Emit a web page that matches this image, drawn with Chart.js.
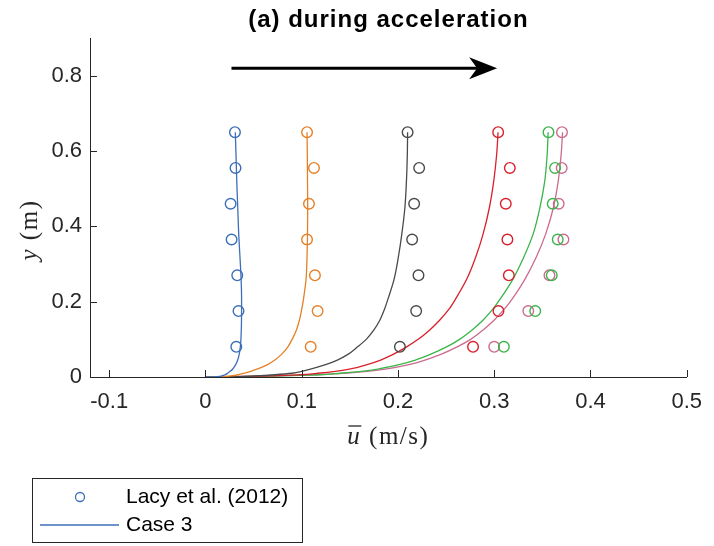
<!DOCTYPE html>
<html>
<head>
<meta charset="utf-8">
<script src="https://cdn.jsdelivr.net/npm/chart.js@4.4.1/dist/chart.umd.min.js"></script>
<style>
  html, body { margin: 0; padding: 0; background: #fff; }
</style>
</head>
<body>
<canvas id="chart" width="714" height="546"></canvas>
<script>
// measured points (Lacy et al. 2012), same heights for every profile
var obsY = [0.65, 0.555, 0.46, 0.365, 0.27, 0.175, 0.08];
var obsBlue   = [0.0306, 0.0312, 0.0261, 0.0271, 0.0330, 0.0343, 0.0320];
var obsOrange = [0.1055, 0.1127, 0.1075, 0.1055, 0.1137, 0.1165, 0.1093];
var obsGray   = [0.2100, 0.2220, 0.2168, 0.2147, 0.2213, 0.2189, 0.2020];
var obsRed    = [0.3041, 0.3162, 0.3120, 0.3137, 0.3152, 0.3044, 0.2780];
var obsGreen  = [0.3564, 0.3632, 0.3608, 0.3660, 0.3598, 0.3426, 0.3100];
var obsPink   = [0.3704, 0.3701, 0.3670, 0.3719, 0.3574, 0.3354, 0.3000];

// model profiles (Case 3) at these heights
var curveY = [0, 0.001, 0.003, 0.006, 0.01, 0.015, 0.022, 0.032, 0.045, 0.06, 0.08, 0.1,
              0.125, 0.15, 0.18, 0.21, 0.26, 0.32, 0.38, 0.45, 0.52, 0.59, 0.65];
var curveBlue   = [0, 0.012, 0.017, 0.0205, 0.023, 0.0257, 0.0285, 0.0312, 0.0335, 0.035, 0.0362, 0.0368,
                   0.0372, 0.0374, 0.0375, 0.0375, 0.0370, 0.0358, 0.0345, 0.0335, 0.0325, 0.0317, 0.031];
var curveOrange = [0, 0.016, 0.026, 0.034, 0.040, 0.047, 0.055, 0.064, 0.072, 0.079, 0.0856, 0.090,
                   0.0945, 0.0975, 0.100, 0.102, 0.1045, 0.1055, 0.106, 0.1062, 0.106, 0.1058, 0.1055];
var curveGray   = [0, 0.030, 0.052, 0.072, 0.090, 0.100, 0.111, 0.124, 0.137, 0.148, 0.158, 0.167,
                   0.175, 0.181, 0.186, 0.190, 0.196, 0.2005, 0.204, 0.2072, 0.2088, 0.2097, 0.210];
var curveRed    = [0, 0.030, 0.070, 0.098, 0.117, 0.135, 0.152, 0.167, 0.182, 0.195, 0.209, 0.221,
                   0.233, 0.243, 0.253, 0.2605, 0.2715, 0.281, 0.2885, 0.295, 0.2995, 0.3025, 0.304];
var curveGreen  = [0, 0.035, 0.078, 0.118, 0.140, 0.162, 0.181, 0.200, 0.218, 0.2335, 0.2505, 0.264,
                   0.277, 0.288, 0.2985, 0.307, 0.3195, 0.331, 0.3405, 0.3475, 0.3525, 0.355, 0.356];
var curvePink   = [0, 0.030, 0.072, 0.115, 0.145, 0.168, 0.190, 0.210, 0.228, 0.2445, 0.2615, 0.2755,
                   0.2885, 0.2995, 0.3105, 0.3195, 0.332, 0.344, 0.3535, 0.3615, 0.3665, 0.3695, 0.371];

var xTicks = [-0.1, 0, 0.1, 0.2, 0.3, 0.4, 0.5];
var xTickLabels = ['-0.1', '0', '0.1', '0.2', '0.3', '0.4', '0.5'];
var yTicks = [0, 0.2, 0.4, 0.6, 0.8];
var yTickLabels = ['0', '0.2', '0.4', '0.6', '0.8'];

var colors = ['#3d6fb8', '#e58027', '#4a4a4a', '#d9202b', '#3ab54a', '#cc6b8e'];
var obsAll = [obsBlue, obsOrange, obsGray, obsRed, obsGreen, obsPink];
var curveAll = [curveBlue, curveOrange, curveGray, curveRed, curveGreen, curvePink];

var datasets = [];
curveAll.forEach(function (xs, i) {
    datasets.push({
        type: 'scatter',
        indexAxis: 'y',
        showLine: true,
        data: xs.map(function (v, k) { return {x: v, y: curveY[k]}; }),
        borderColor: colors[i],
        borderWidth: 1.3,
        pointRadius: 0,
        cubicInterpolationMode: 'monotone',
        order: 2
    });
});
obsAll.forEach(function (xs, i) {
    datasets.push({
        type: 'scatter',
        data: xs.map(function (v, k) { return {x: v, y: obsY[k]}; }),
        borderColor: colors[i],
        backgroundColor: 'rgba(0,0,0,0)',
        borderWidth: 1.4,
        pointRadius: 5.3,
        pointStyle: 'circle',
        order: 1
    });
});

var axisColor = '#262626';
var serif = '"Liberation Serif", "DejaVu Serif", serif';

// inward ticks, arrow, axis titles, legend
var deco = {
    id: 'deco',
    afterDraw: function (chart) {
        var ctx = chart.ctx, xs = chart.scales.x, ys = chart.scales.y, a = chart.chartArea;
        ctx.save();
        ctx.strokeStyle = axisColor;
        ctx.lineWidth = 1;
        xTicks.forEach(function (v) {
            var px = Math.round(xs.getPixelForValue(v)) + 0.5;
            ctx.beginPath(); ctx.moveTo(px, a.bottom); ctx.lineTo(px, a.bottom - 7); ctx.stroke();
        });
        yTicks.forEach(function (v) {
            var py = Math.round(ys.getPixelForValue(v)) + 0.5;
            ctx.beginPath(); ctx.moveTo(a.left, py); ctx.lineTo(a.left + 7, py); ctx.stroke();
        });

        // arrow
        var ax0 = xs.getPixelForValue(0.027), ax1 = xs.getPixelForValue(0.303), ay = ys.getPixelForValue(0.82);
        ctx.strokeStyle = '#000';
        ctx.fillStyle = '#000';
        ctx.lineWidth = 3;
        ctx.beginPath(); ctx.moveTo(ax0, ay); ctx.lineTo(ax1 - 12, ay); ctx.stroke();
        ctx.beginPath();
        ctx.moveTo(ax1, ay);
        ctx.lineTo(ax1 - 28, ay - 11);
        ctx.lineTo(ax1 - 20, ay);
        ctx.lineTo(ax1 - 28, ay + 11);
        ctx.closePath();
        ctx.fill();

        // title
        ctx.fillStyle = '#000';
        ctx.font = 'bold 24px "Liberation Sans", Arial, sans-serif';
        ctx.letterSpacing = '1px';
        ctx.textAlign = 'center';
        ctx.textBaseline = 'middle';
        ctx.fillText('(a) during acceleration', (a.left + a.right) / 2, 20);

        // x title: overline u (m/s)
        ctx.fillStyle = axisColor;
        ctx.strokeStyle = axisColor;
        ctx.letterSpacing = '1.5px';
        var cx = (a.left + a.right) / 2, cy = 437;
        ctx.font = 'italic 25px ' + serif;
        var wu = ctx.measureText('u').width;
        ctx.font = '25px ' + serif;
        var wr = ctx.measureText(' (m/s)').width;
        var start = cx - (wu + wr) / 2;
        ctx.textAlign = 'left';
        ctx.font = 'italic 25px ' + serif;
        ctx.fillText('u', start, cy);
        ctx.lineWidth = 1.3;
        ctx.beginPath(); ctx.moveTo(start + 1, cy - 11); ctx.lineTo(start + wu, cy - 11); ctx.stroke();
        ctx.font = '25px ' + serif;
        ctx.fillText(' (m/s)', start + wu, cy);

        // y title: y (m), rotated
        ctx.save();
        ctx.translate(30, 230);
        ctx.rotate(-Math.PI / 2);
        ctx.font = 'italic 25px ' + serif;
        var wy = ctx.measureText('y').width;
        ctx.font = '25px ' + serif;
        var wm = ctx.measureText(' (m)').width;
        var s2 = -(wy + wm) / 2;
        ctx.font = 'italic 25px ' + serif;
        ctx.fillText('y', s2, 0);
        ctx.font = '25px ' + serif;
        ctx.fillText(' (m)', s2 + wy, 0);
        ctx.restore();
        ctx.letterSpacing = '0px';

        // legend
        ctx.fillStyle = '#fff';
        ctx.fillRect(32.5, 478.5, 270, 64);
        ctx.strokeStyle = '#262626';
        ctx.lineWidth = 1;
        ctx.strokeRect(32.5, 478.5, 270, 64);
        ctx.strokeStyle = colors[0];
        ctx.lineWidth = 1.3;
        ctx.beginPath(); ctx.arc(80, 497, 4.5, 0, Math.PI * 2); ctx.stroke();
        ctx.beginPath(); ctx.moveTo(40, 525); ctx.lineTo(119, 525); ctx.stroke();
        ctx.fillStyle = '#000';
        ctx.font = '21px "Liberation Sans", Arial, sans-serif';
        ctx.textAlign = 'left';
        ctx.textBaseline = 'middle';
        ctx.fillText('Lacy et al. (2012)', 126, 497);
        ctx.fillText('Case 3', 126, 525);
        ctx.restore();
    }
};

var ctx = document.getElementById('chart').getContext('2d');
new Chart(ctx, {
    type: 'scatter',
    data: {datasets: datasets},
    options: {
        responsive: false,
        animation: false,
        layout: {padding: {top: 38, right: 24, left: 0, bottom: 0}},
        plugins: {legend: {display: false}, tooltip: {enabled: false}},
        scales: {
            x: {
                type: 'linear',
                min: -0.12,
                max: 0.5,
                afterBuildTicks: function (s) { s.ticks = xTicks.map(function (v) { return {value: v}; }); },
                afterFit: function (s) { s.height = 169; },
                ticks: {
                    callback: function (v) { return xTickLabels[xTicks.indexOf(v)]; },
                    color: axisColor,
                    font: {family: '"Liberation Sans", Arial, sans-serif', size: 22},
                    padding: 12,
                    maxRotation: 0,
                    autoSkip: false
                },
                grid: {display: true, drawOnChartArea: false, drawTicks: false},
                border: {display: true, color: axisColor, width: 1}
            },
            y: {
                type: 'linear',
                min: 0,
                max: 0.9,
                afterBuildTicks: function (s) { s.ticks = yTicks.map(function (v) { return {value: v}; }); },
                afterFit: function (s) { s.width = 90; },
                ticks: {
                    callback: function (v) { return yTickLabels[yTicks.indexOf(v)]; },
                    color: axisColor,
                    font: {family: '"Liberation Sans", Arial, sans-serif', size: 22},
                    padding: 8,
                    autoSkip: false
                },
                grid: {display: true, drawOnChartArea: false, drawTicks: false},
                border: {display: true, color: axisColor, width: 1}
            }
        }
    },
    plugins: [deco]
});
</script>
</body>
</html>
